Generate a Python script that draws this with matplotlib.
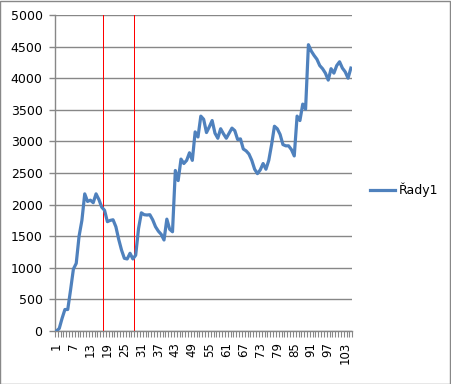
import numpy as np
import matplotlib
matplotlib.use('Agg')
import matplotlib.pyplot as plt
from matplotlib.patches import Rectangle

# values of Rady1, one per category 1..105
rady1 = [0, 40, 200, 340, 340, 650, 980, 1070, 1500, 1750,
         2170, 2050, 2070, 2030, 2170, 2080, 1960, 1910, 1730, 1750,
         1760, 1650, 1450, 1280, 1150, 1140, 1230, 1140, 1200, 1620,
         1870, 1840, 1835, 1840, 1760, 1650, 1580, 1530, 1440, 1770,
         1610, 1570, 2540, 2380, 2720, 2650, 2700, 2820, 2700, 3150,
         3070, 3400, 3350, 3140, 3230, 3330, 3130, 3050, 3200, 3120,
         3050, 3130, 3210, 3170, 3030, 3040, 2880, 2850, 2800, 2700,
         2560, 2490, 2550, 2650, 2560, 2700, 2950, 3240, 3200, 3110,
         2950, 2930, 2930, 2870, 2770, 3400, 3330, 3590, 3510, 4530,
         4430, 4360, 4300, 4200, 4150, 4080, 3970, 4150, 4080, 4200,
         4260, 4160, 4100, 4000, 4160]
kategorie = list(range(1, len(rady1) + 1))
cervene = [17.5, 28.5]   # the two red marker lines (between categories)
yticks = list(range(0, 5001, 500))
xlabels = kategorie[::6]

fig = plt.figure(figsize=(4.51, 3.84), dpi=100)
ax = fig.add_axes([55/451, 1 - 331/384, (352.3 - 55)/451, (331 - 15)/384])

seda = '#878787'
ax.set_ylim(0, 5000)
ax.set_xlim(0.5, len(rady1) + 0.5)
ax.set_yticks(yticks)
ax.yaxis.grid(True, color=seda, linewidth=1.0)
ax.set_axisbelow(True)

for x in cervene:
    ax.axvline(x, color='#ff0000', linewidth=0.72, snap=True, zorder=2)

ax.plot(kategorie, rady1, color='#4F81BD', linewidth=2.3, label='Řady1',
        solid_joinstyle='round', zorder=3)

for s in ['top', 'right']:
    ax.spines[s].set_visible(False)
for s in ['left', 'bottom']:
    ax.spines[s].set_color(seda)
    ax.spines[s].set_linewidth(1.0)

ax.set_xticks(xlabels)
ax.set_xticklabels([str(v) for v in xlabels], rotation=90, fontsize=8.5)
ax.set_xticks(np.arange(0.5, len(rady1) + 1, 1.0), minor=True)
ax.tick_params(axis='x', which='major', length=0, pad=8)
ax.tick_params(axis='x', which='minor', length=4, color=seda, width=0.8, direction='out')
ax.tick_params(axis='y', length=4, color=seda, width=1.0, pad=5, labelsize=9)

leg = fig.legend(loc='center left', bbox_to_anchor=(370/451, 1 - 190/384),
                 frameon=False, fontsize=9, handlelength=2.0,
                 handletextpad=0.3, borderpad=0, borderaxespad=0)

# chart border
fig.add_artist(Rectangle((0.001, 0.001), 0.997, 0.996, transform=fig.transFigure,
                         fill=False, edgecolor='#888888', linewidth=1.0))

fig.savefig('out.png', dpi=100)
